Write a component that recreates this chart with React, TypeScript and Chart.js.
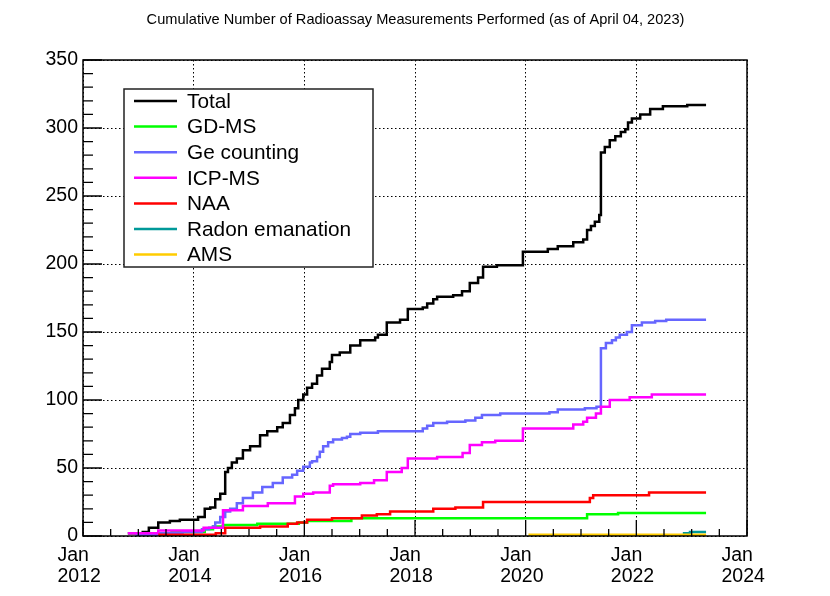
import { useEffect, useRef } from "react"
import { Chart, registerables } from "chart.js"

Chart.register(...registerables)

const TITLE = "Cumulative Number of Radioassay Measurements Performed (as of April 04, 2023)"
const FONT = "'Liberation Sans', Arial, Helvetica, sans-serif"
const END_DATE = 2023.26

// series: step dates (decimal years) and cumulative counts after each step
const totalDates = [2012.81, 2013.08, 2013.19, 2013.36, 2013.57, 2013.75, 2014.08, 2014.2, 2014.3, 2014.39, 2014.48, 2014.57, 2014.62, 2014.69, 2014.78, 2014.89, 2015.02, 2015.2, 2015.33, 2015.51, 2015.61, 2015.74, 2015.83, 2015.89, 2015.98, 2016.05, 2016.14, 2016.23, 2016.32, 2016.46, 2016.5, 2016.64, 2016.83, 2017.01, 2017.28, 2017.33, 2017.49, 2017.73, 2017.87, 2018.14, 2018.22, 2018.33, 2018.4, 2018.69, 2018.85, 2018.99, 2019.14, 2019.23, 2019.48, 2019.95, 2020.4, 2020.58, 2020.86, 2021.04, 2021.11, 2021.18, 2021.25, 2021.33, 2021.36, 2021.43, 2021.52, 2021.62, 2021.72, 2021.8, 2021.85, 2021.92, 2022.07, 2022.25, 2022.48, 2022.92]
const totalCounts = [2, 3, 6, 10, 11, 12, 14, 20, 21, 27, 31, 47, 50, 54, 57, 63, 66, 74, 77, 80, 83, 89, 94, 100, 104, 109, 112, 118, 123, 128, 133, 135, 140, 144, 146, 148, 157, 159, 167, 168, 171, 174, 176, 177, 180, 186, 190, 198, 199, 209, 211, 213, 216, 218, 225, 228, 231, 236, 282, 286, 291, 294, 297, 299, 304, 307, 310, 314, 316, 317]

const gdmsDates = [2013.15, 2013.6, 2014.2, 2014.35, 2014.53, 2015.15, 2015.9, 2016.05, 2016.85, 2021.11, 2021.67]
const gdmsCounts = [2, 3, 5, 7, 8, 9, 10, 11, 13, 16, 17]

const geDates = [2012.95, 2013.4, 2013.8, 2014.15, 2014.28, 2014.35, 2014.39, 2014.48, 2014.57, 2014.66, 2014.78, 2014.89, 2015.07, 2015.24, 2015.43, 2015.61, 2015.78, 2015.87, 2015.98, 2016.1, 2016.14, 2016.23, 2016.28, 2016.34, 2016.43, 2016.52, 2016.68, 2016.77, 2016.83, 2017.01, 2017.33, 2018.14, 2018.22, 2018.33, 2018.58, 2018.91, 2019.09, 2019.21, 2019.54, 2020.43, 2020.58, 2021.07, 2021.28, 2021.36, 2021.45, 2021.56, 2021.63, 2021.7, 2021.83, 2021.92, 2022.1, 2022.34, 2022.54]
const geCounts = [1, 2, 3, 5, 6, 7, 10, 14, 18, 20, 24, 28, 32, 36, 39, 43, 45, 48, 51, 54, 55, 58, 62, 66, 69, 71, 72, 73, 75, 76, 77, 79, 81, 83, 84, 85, 87, 89, 90, 91, 93, 94, 95, 138, 142, 144, 146, 148, 150, 155, 157, 158, 159]

const icpDates = [2012.81, 2013.36, 2014.18, 2014.53, 2014.89, 2015.34, 2015.83, 2015.98, 2016.16, 2016.46, 2016.52, 2017.01, 2017.26, 2017.49, 2017.76, 2017.87, 2018.4, 2018.86, 2018.99, 2019.21, 2019.45, 2019.95, 2020.86, 2021.04, 2021.11, 2021.27, 2021.36, 2021.52, 2021.88, 2022.28]
const icpCounts = [2, 4, 6, 19, 22, 24, 29, 31, 32, 37, 38, 39, 41, 47, 50, 57, 58, 61, 67, 69, 70, 79, 82, 84, 87, 90, 95, 100, 102, 104]

const naaDates = [2013.36, 2014.4, 2014.57, 2015.2, 2015.7, 2015.87, 2016.05, 2016.5, 2017.04, 2017.31, 2017.55, 2018.33, 2018.73, 2019.23, 2021.16, 2021.22, 2022.23]
const naaCounts = [1, 2, 6, 7, 9, 10, 12, 13, 15, 16, 18, 20, 21, 25, 28, 30, 32]

const radonDates = [2022.84, 2022.97]
const radonCounts = [2, 3]

const amsDates = [2020.05]
const amsCounts = [1]

const seriesNames = ["Total", "GD-MS", "Ge counting", "ICP-MS", "NAA", "Radon emanation", "AMS"]
const seriesColors = ["#000000", "#00ff00", "#6666ff", "#ff00ff", "#ff0000", "#009999", "#ffcc00"]
const seriesDates = [totalDates, gdmsDates, geDates, icpDates, naaDates, radonDates, amsDates]
const seriesCounts = [totalCounts, gdmsCounts, geCounts, icpCounts, naaCounts, radonCounts, amsCounts]

const xLabelYears = [2012, 2014, 2016, 2018, 2020, 2022, 2024]
const yMax = 350

const rootStyle = {
  id: "rootStyle",
  afterDraw(chart: Chart) {
    const { ctx, chartArea: a, scales } = chart
    const xs = scales.x
    const ys = scales.y
    ctx.save()

    // frame
    ctx.strokeStyle = "#000"
    ctx.lineWidth = 1.5
    ctx.strokeRect(a.left, a.top, a.right - a.left, a.bottom - a.top)

    // tick marks, inside the frame
    ctx.lineWidth = 1.3
    ctx.beginPath()
    for (let m = 0; m <= 24; m++) {
      const x = xs.getPixelForValue(2012 + m * 0.5)
      const len = m % 4 === 0 ? 16 : 7
      ctx.moveTo(x, a.bottom)
      ctx.lineTo(x, a.bottom - len)
    }
    for (let v = 0; v <= yMax; v += 10) {
      const y = ys.getPixelForValue(v)
      const len = v % 50 === 0 ? 19 : 10
      ctx.moveTo(a.left, y)
      ctx.lineTo(a.left + len, y)
    }
    ctx.stroke()

    // x labels: Jan / year
    ctx.fillStyle = "#000"
    ctx.font = `19.5px ${FONT}`
    ctx.textAlign = "left"
    ctx.textBaseline = "alphabetic"
    for (const yr of xLabelYears) {
      const x = xs.getPixelForValue(yr) - 25.5
      ctx.fillText("Jan", x, a.bottom + 25)
      ctx.fillText(String(yr), x, a.bottom + 46)
    }

    // title
    ctx.font = `14.6px ${FONT}`
    ctx.textAlign = "center"
    ctx.fillText(TITLE, 415.5, 24)

    // legend
    const lx = 124, ly = 89, lw = 249, lh = 178
    ctx.fillStyle = "#fff"
    ctx.fillRect(lx, ly, lw, lh)
    ctx.strokeStyle = "#222"
    ctx.lineWidth = 1.5
    ctx.strokeRect(lx, ly, lw, lh)
    ctx.font = `20.8px ${FONT}`
    ctx.textAlign = "left"
    ctx.textBaseline = "middle"
    chart.data.datasets.forEach((ds, i) => {
      const cy = ly + 12 + i * 25.6
      ctx.strokeStyle = ds.borderColor as string
      ctx.lineWidth = 2.5
      ctx.beginPath()
      ctx.moveTo(lx + 10, cy)
      ctx.lineTo(lx + 53, cy)
      ctx.stroke()
      ctx.fillStyle = "#000"
      ctx.fillText(ds.label as string, lx + 63, cy + 1)
    })
    ctx.restore()
  },
}

export default function App() {
  const chartRef = useRef<HTMLCanvasElement>(null)
  const chartInstance = useRef<Chart | null>(null)

  useEffect(() => {
    document.body.style.margin = "0"
    if (!chartRef.current) return
    if (chartInstance.current) chartInstance.current.destroy()
    const ctx = chartRef.current.getContext("2d")
    if (!ctx) return

    const datasets = seriesNames.map((name, i) => {
      const dates = seriesDates[i]
      const counts = seriesCounts[i]
      const pts = dates.map((d, j) => ({ x: d, y: counts[j] }))
      pts.push({ x: END_DATE, y: counts[counts.length - 1] })
      return {
        label: name,
        data: pts,
        borderColor: seriesColors[i],
        backgroundColor: seriesColors[i],
        borderWidth: 2.5,
        pointRadius: 0,
        stepped: "before" as const,
        fill: false,
        borderJoinStyle: "miter" as const,
        borderCapStyle: "butt" as const,
        order: seriesNames.length - i,
      }
    })

    chartInstance.current = new Chart(ctx, {
      type: "line",
      data: { datasets },
      plugins: [rootStyle],
      options: {
        animation: false,
        responsive: false,
        layout: { padding: { top: 60, right: 83, left: 0, bottom: 0 } },
        scales: {
          x: {
            type: "linear",
            min: 2012,
            max: 2024,
            afterFit: (s: any) => { s.height = 60 },
            ticks: { display: false, stepSize: 2 },
            grid: { color: "#000", lineWidth: 1, drawTicks: false },
            border: { display: false, dash: [1.5, 2.5] },
          },
          y: {
            min: 0,
            max: yMax,
            afterFit: (s: any) => { s.width = 83 },
            ticks: {
              stepSize: 50,
              padding: 5,
              color: "#000",
              font: { family: FONT, size: 19.5 },
            },
            grid: { color: "#000", lineWidth: 1, drawTicks: false },
            border: { display: false, dash: [1.5, 2.5] },
          },
        },
        plugins: {
          legend: { display: false },
          title: { display: false },
          tooltip: { enabled: false },
        },
      },
    })

    return () => {
      if (chartInstance.current) {
        chartInstance.current.destroy()
        chartInstance.current = null
      }
    }
  }, [])

  return (
    <div style={{ width: 830, height: 596, background: "#fff" }}>
      <canvas ref={chartRef} width={830} height={596} />
    </div>
  )
}
